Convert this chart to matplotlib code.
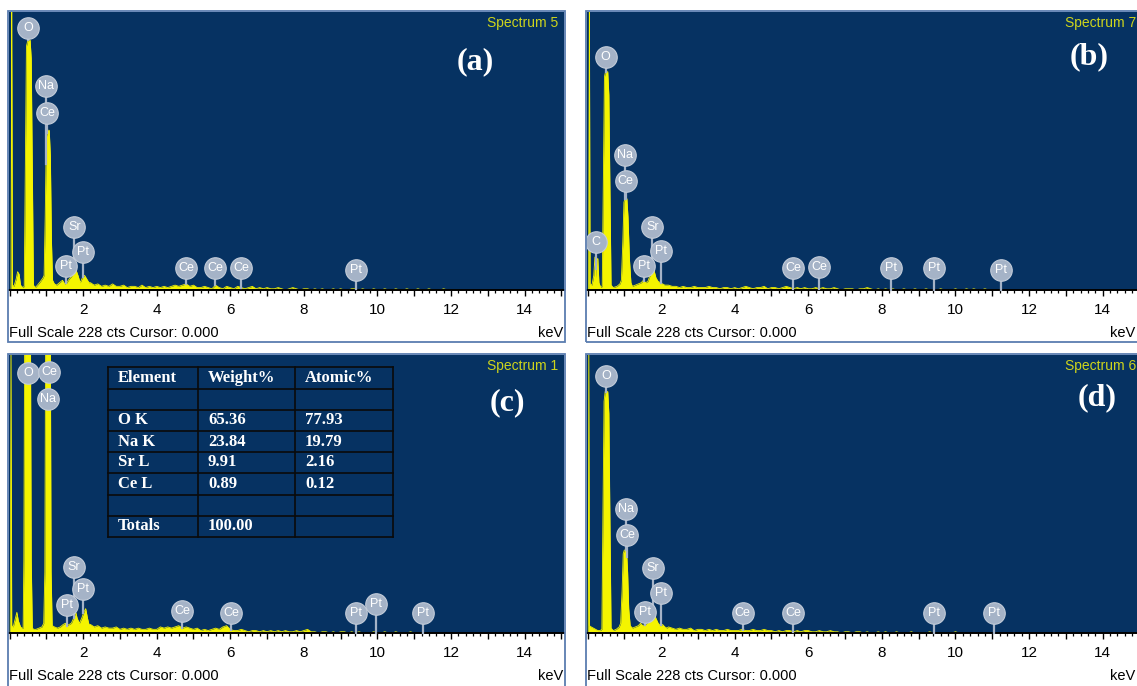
import numpy as np
import matplotlib.pyplot as plt
from matplotlib.patches import Rectangle
from matplotlib.lines import Line2D

# EDS spectra (keV vs counts).
# low-energy part (0 - 2.2 keV) with the big peaks
a_kev = [0.00, 0.04, 0.06, 0.08, 0.12, 0.18, 0.22, 0.26, 0.30, 0.36, 0.40, 0.43, 0.46, 0.50,
         0.56, 0.59, 0.62, 0.65, 0.70, 0.76, 0.84, 0.91, 0.94, 0.97, 1.00, 1.03, 1.08, 1.11,
         1.14, 1.17, 1.22, 1.28, 1.36, 1.44, 1.50, 1.56, 1.62, 1.68, 1.74, 1.80, 1.86, 1.92,
         1.98, 2.04, 2.10, 2.16]
a_cts = [0, 0, 240, 4, 3, 9, 15, 13, 4, 2, 3, 100, 200, 205,
         205, 190, 100, 4, 2, 4, 7, 10, 12, 60, 125, 131, 131, 110,
         40, 8, 5, 4, 6, 8, 5, 6, 9, 11, 14, 17, 12, 6,
         10, 12, 9, 6]

b_kev = [0.00, 0.03, 0.05, 0.07, 0.12, 0.17, 0.20, 0.23, 0.25, 0.28, 0.31, 0.36, 0.40, 0.43,
         0.46, 0.49, 0.55, 0.58, 0.61, 0.64, 0.70, 0.80, 0.88, 0.92, 0.96, 0.99, 1.02, 1.07,
         1.10, 1.14, 1.18, 1.22, 1.30, 1.38, 1.46, 1.52, 1.58, 1.64, 1.70, 1.76, 1.80, 1.86,
         1.92, 1.98, 2.04, 2.10, 2.16]
b_cts = [0, 0, 240, 5, 4, 12, 27, 10, 24, 26, 6, 2, 3, 90,
         175, 179, 179, 160, 80, 4, 2, 3, 5, 8, 40, 72, 75, 75,
         60, 25, 6, 3, 4, 5, 6, 8, 6, 7, 12, 19, 17, 10,
         7, 6, 5, 4, 4]

c_kev = [0.00, 0.02, 0.04, 0.06, 0.10, 0.16, 0.20, 0.24, 0.30, 0.34, 0.37, 0.39, 0.41, 0.57,
         0.59, 0.62, 0.66, 0.72, 0.80, 0.88, 0.93, 0.96, 0.98, 1.11, 1.13, 1.16, 1.22, 1.30,
         1.38, 1.46, 1.52, 1.56, 1.62, 1.68, 1.74, 1.80, 1.84, 1.90, 1.96, 2.02, 2.07, 2.12, 2.16]
c_cts = [0, 0, 240, 6, 5, 12, 17, 10, 5, 4, 4, 60, 240, 240,
         60, 4, 3, 3, 4, 5, 8, 50, 240, 240, 50, 6, 5, 4,
         5, 7, 8, 6, 7, 8, 12, 17, 12, 8, 12, 17, 20, 12, 7]

d_kev = [0.00, 0.02, 0.035, 0.05, 0.10, 0.16, 0.22, 0.28, 0.34, 0.39, 0.42, 0.45, 0.48, 0.55,
         0.58, 0.61, 0.64, 0.70, 0.78, 0.86, 0.90, 0.94, 0.97, 1.00, 1.06, 1.09, 1.12, 1.16,
         1.22, 1.30, 1.38, 1.44, 1.50, 1.56, 1.62, 1.68, 1.74, 1.80, 1.86, 1.92, 1.98, 2.04,
         2.10, 2.16]
d_cts = [0, 0, 240, 6, 5, 4, 3, 2, 2, 3, 100, 190, 198, 198,
         180, 90, 4, 2, 3, 5, 8, 35, 65, 68, 68, 50, 20, 6,
         4, 5, 6, 8, 6, 7, 8, 11, 14, 17, 12, 8, 6, 7,
         5, 4]

# background counts from 2.2 keV upwards, one value per 0.1 keV
a_bg = [6, 4, 5, 3, 4, 3, 5, 3, 3, 4,
        2, 3, 3, 2, 4, 2, 3, 2, 3, 2,
        3, 2, 3, 4, 3, 4, 5, 3, 4, 2,
        2, 3, 2, 1, 4, 2, 1, 3, 2, 1,
        3, 2, 1, 2, 3, 1, 2, 1, 2, 1,
        1, 2, 1, 0, 1, 2, 1, 0, 1, 1,
        0, 1, 0, 1, 0, 0, 1, 0, 1, 0,
        0, 1, 1, 0, 1, 0, 0, 1, 0, 0,
        1, 0, 0, 1, 0, 0, 1, 0, 0, 1,
        0, 0, 1, 0, 0, 0, 1, 0, 0, 0, 0]
b_bg = [4, 3, 3, 2, 3, 2, 2, 3, 2, 2,
        2, 3, 2, 2, 1, 2, 2, 1, 2, 1,
        2, 3, 2, 1, 2, 2, 3, 1, 2, 2,
        1, 2, 3, 2, 1, 2, 1, 2, 1, 1,
        2, 1, 2, 1, 1, 2, 1, 0, 1, 1,
        1, 0, 1, 1, 2, 1, 0, 1, 0, 1,
        0, 1, 0, 0, 1, 0, 0, 1, 0, 0,
        1, 0, 0, 0, 1, 0, 0, 0, 1, 0,
        0, 1, 0, 1, 0, 0, 1, 0, 0, 0, 0]
c_bg = [7, 5, 6, 4, 5, 4, 4, 5, 3, 4,
        3, 4, 3, 4, 3, 3, 4, 3, 3, 5,
        4, 5, 4, 5, 6, 4, 5, 4, 3, 4,
        2, 3, 2, 3, 4, 3, 5, 6, 3, 2,
        2, 3, 2, 1, 2, 2, 1, 2, 1, 2,
        1, 2, 1, 2, 1, 1, 2, 1, 2, 3,
        1, 1, 0, 1, 1, 0, 1, 0, 1, 1,
        0, 1, 0, 1, 0, 0, 0, 1, 0, 0,
        1, 0, 0, 1, 0, 0, 0, 1, 0, 0, 0]
d_bg = [5, 4, 3, 4, 3, 3, 4, 2, 3, 3,
        2, 3, 2, 3, 2, 2, 3, 2, 2, 2,
        3, 2, 2, 3, 2, 2, 3, 2, 2, 1,
        2, 1, 2, 2, 1, 2, 1, 2, 2, 1,
        1, 2, 1, 1, 2, 1, 1, 0, 1, 1,
        0, 1, 1, 0, 1, 0, 0, 1, 0, 1,
        0, 0, 1, 0, 0, 0, 1, 0, 0, 0,
        0, 1, 0, 0, 0, 0, 0, 0, 1, 0, 0]

# peak labels: element, energy (keV), label height (counts)
a_lab = ['O', 'Na', 'Ce', 'Sr', 'Pt', 'Pt', 'Ce', 'Ce', 'Ce', 'Pt']
a_lab_kev = [0.50, 0.99, 1.02, 1.76, 2.00, 1.54, 4.80, 5.59, 6.30, 9.43]
a_lab_cts = [215, 167, 145, 52, 31, 20, 18, 18, 18, 16]

b_lab = ['C', 'O', 'Na', 'Ce', 'Sr', 'Pt', 'Pt', 'Ce', 'Ce', 'Pt', 'Pt', 'Pt']
b_lab_kev = [0.24, 0.49, 1.03, 1.04, 1.76, 2.00, 1.54, 5.59, 6.29, 8.24, 9.41, 11.24]
b_lab_cts = [39, 191, 111, 89, 52, 32, 20, 18, 19, 18, 18, 16]

c_lab = ['O', 'Ce', 'Na', 'Sr', 'Pt', 'Pt', 'Ce', 'Ce', 'Pt', 'Pt', 'Pt']
c_lab_kev = [0.50, 1.07, 1.05, 1.74, 2.01, 1.56, 4.69, 6.03, 9.43, 9.97, 11.25]
c_lab_cts = [213, 214, 192, 54, 36, 23, 18, 16, 16, 24, 16]

d_lab = ['O', 'Na', 'Ce', 'Sr', 'Pt', 'Pt', 'Ce', 'Ce', 'Pt', 'Pt']
d_lab_kev = [0.51, 1.05, 1.07, 1.78, 2.01, 1.55, 4.22, 5.58, 9.41, 11.05]
d_lab_cts = [211, 102, 80, 53, 33, 17, 16, 16, 16, 16]

spectrum_names = ['Spectrum 5', 'Spectrum 7', 'Spectrum 1', 'Spectrum 6']
panel_tags = ['(a)', '(b)', '(c)', '(d)']

# quantification table shown in panel (c)
table_header = ['Element', 'Weight%', 'Atomic%']
table_elements = ['O K', 'Na K', 'Sr L', 'Ce L']
table_weight = ['65.36', '23.84', '9.91', '0.89']
table_atomic = ['77.93', '19.79', '2.16', '0.12']
table_total = ['Totals', '100.00', '']

BLUE = '#063262'
YEL = '#f4f400'
BUBBLE = '#a5b3c7'
FRAME = '#5a7db0'
W, H = 1137, 686
FULL_SCALE = 228

fig = plt.figure(figsize=(W / 100, H / 100), dpi=100)
fig.patch.set_facecolor('white')


def fx(x):
    return x / W


def fy(y):
    return 1 - y / H


def draw_panel(x0, y0, kev, cts, bg, labs, lab_kev, lab_cts, name, tag, tag_xy, frame_h):
    x1, y1 = x0 + 555, y0 + 278
    fig.add_artist(Rectangle((fx(x0 - 1), fy(y0 - 1 + frame_h)), 557 / W, frame_h / H,
                             transform=fig.transFigure, fill=False, ec=FRAME, lw=1.3))
    ax = fig.add_axes([fx(x0), fy(y1), (x1 - x0) / W, (y1 - y0) / H])
    ax.set_facecolor(BLUE)

    e = np.concatenate([kev, 2.2 + 0.1 * np.arange(len(bg))])
    c = np.concatenate([cts, bg]).astype(float)
    ax.fill_between(e, 0, c, color=YEL, lw=0, zorder=2)
    ax.plot(e, c, color=YEL, lw=0.6, zorder=2)

    ax.set_xlim(-0.014, 15.07)
    ax.set_ylim(0, FULL_SCALE)
    for s in ['top', 'left', 'right']:
        ax.spines[s].set_visible(False)
    ax.spines['bottom'].set_color('black')
    ax.spines['bottom'].set_linewidth(1.4)
    ax.set_yticks([])
    ax.set_xticks(range(0, 16))
    ax.set_xticklabels(['' if (k % 2 or k == 0) else str(k) for k in range(0, 16)])
    ax.set_xticks(np.arange(0, 15.01, 0.2), minor=True)
    ax.tick_params(axis='x', which='major', direction='out', length=4.5, width=1,
                   labelsize=11, pad=5)
    ax.tick_params(axis='x', which='minor', direction='out', length=2.5, width=0.9)
    for t in ax.get_xticklabels():
        t.set_family('Liberation Sans')

    # element markers
    for lab, le, lc in zip(labs, lab_kev, lab_cts):
        top = min(np.interp(le, e, c), lc)
        ax.plot([le, le], [lc, top], color=BUBBLE, lw=1.6, zorder=3, clip_on=False)
        ax.plot(le, lc, 'o', ms=15.5, mfc=BUBBLE, mec='#c3ccd9', mew=0.8, zorder=4)
    for lab, le, lc in zip(labs, lab_kev, lab_cts):
        ax.text(le, lc, lab, color='white', fontsize=9, family='Liberation Sans',
                ha='center', va='center', zorder=5)

    fig.text(fx(x1 - 6), fy(y0 + 11), name, color='#cdd41c', fontsize=10,
             family='Liberation Sans', ha='right', va='center')
    fig.text(fx(tag_xy[0]), fy(tag_xy[1]), tag, color='white', fontsize=23,
             family='Liberation Serif', weight='bold', ha='center', va='center')
    fig.text(fx(x0), fy(y1 + 43), 'Full Scale %d cts Cursor: 0.000' % FULL_SCALE,
             fontsize=10.5, family='Liberation Sans', ha='left', va='center')
    fig.text(fx(min(x1 - 1, W - 2)), fy(y1 + 43), 'keV', fontsize=10.5,
             family='Liberation Sans', ha='right', va='center')
    return ax


draw_panel(9, 12, a_kev, a_cts, a_bg, a_lab, a_lab_kev, a_lab_cts,
           spectrum_names[0], panel_tags[0], (475, 62), 331)
draw_panel(587, 12, b_kev, b_cts, b_bg, b_lab, b_lab_kev, b_lab_cts,
           spectrum_names[1], panel_tags[1], (1089, 57), 331)
draw_panel(9, 355, c_kev, c_cts, c_bg, c_lab, c_lab_kev, c_lab_cts,
           spectrum_names[2], panel_tags[2], (507, 403), 345)
draw_panel(587, 355, d_kev, d_cts, d_bg, d_lab, d_lab_kev, d_lab_cts,
           spectrum_names[3], panel_tags[3], (1097, 398), 345)

# table in panel (c)
col_x = [108, 198, 295, 393]
row_y = [367, 389, 410, 431, 452, 473, 495, 516, 537]
for xx in col_x:
    fig.add_artist(Line2D([fx(xx), fx(xx)], [fy(row_y[0]), fy(row_y[-1])],
                          transform=fig.transFigure, color='#0a0a0a', lw=1.2))
for yy in row_y:
    fig.add_artist(Line2D([fx(col_x[0]), fx(col_x[-1])], [fy(yy), fy(yy)],
                          transform=fig.transFigure, color='#0a0a0a', lw=1.2))

rows = [table_header, ['', '', '']]
rows += [[el, w, a] for el, w, a in zip(table_elements, table_weight, table_atomic)]
rows += [['', '', ''], table_total]
for i, row in enumerate(rows):
    yc = (row_y[i] + row_y[i + 1]) / 2
    for j, txt in enumerate(row):
        fig.text(fx(col_x[j] + 10), fy(yc), txt, color='white', fontsize=12,
                 family='Liberation Serif', weight='bold', ha='left', va='center')

fig.savefig('out.png', dpi=100)
